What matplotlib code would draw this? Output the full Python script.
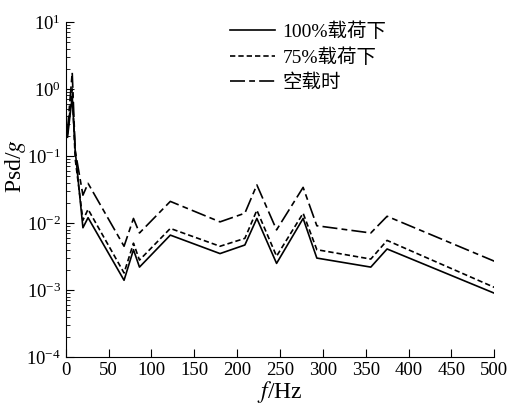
import numpy as np
import matplotlib
matplotlib.use("Agg")
import matplotlib.pyplot as plt

plt.rcParams['font.family'] = ['Liberation Serif', 'Noto Sans CJK SC', 'DejaVu Sans']
plt.rcParams['mathtext.fontset'] = 'stix'

# 频率点 (Hz)
freq = [2, 7.5, 11, 20, 26, 68, 79, 86, 122, 180, 209, 223, 246, 277, 293, 356, 375, 500]
# 100%载荷下
psd_full = [0.19, 0.77, 0.12, 0.0085, 0.012, 0.0014, 0.004, 0.0022, 0.0066, 0.0035, 0.0047,
            0.0117, 0.0025, 0.0117, 0.0030, 0.0022, 0.0041, 0.0009]
# 75%载荷下
psd_75 = [0.21, 1.0, 0.09, 0.011, 0.016, 0.0018, 0.005, 0.0028, 0.0083, 0.0045, 0.0059,
          0.0155, 0.0032, 0.014, 0.0040, 0.0029, 0.0055, 0.0011]
# 空载时
psd_empty = [0.24, 1.75, 0.12, 0.026, 0.039, 0.0045, 0.0117, 0.0071, 0.021, 0.0104, 0.014,
             0.037, 0.0079, 0.034, 0.0091, 0.0071, 0.0126, 0.0027]

labels = ['100%载荷下', '75%载荷下', '空载时']

fig = plt.figure(figsize=(5.1, 4.04), dpi=100)
ax = fig.add_axes([0.129, 0.116, 0.84, 0.83])

ax.semilogy(freq, psd_full, color='black', lw=1.2, label=labels[0])
ax.semilogy(freq, psd_75, color='black', lw=1.2, dashes=(3.2, 1.8), label=labels[1])
ax.semilogy(freq, psd_empty, color='black', lw=1.2, dashes=(9, 2.5, 3.5, 2.5), label=labels[2])

ax.set_xlim(0, 500)
ax.set_ylim(1e-4, 10)
ax.set_xticks(np.arange(0, 501, 50))
ax.spines['top'].set_visible(False)
ax.spines['right'].set_visible(False)
ax.tick_params(axis='both', which='both', direction='in', labelsize=13.5)
ax.tick_params(axis='both', which='major', length=6)
ax.tick_params(axis='y', which='minor', length=3)

ax.set_xlabel(r'$\it{f}$/Hz', fontsize=17, labelpad=0)
ax.set_ylabel(r'Psd/$\it{g}$', fontsize=17)
ax.yaxis.set_label_coords(-0.088, 0.57)

ax.legend(loc='upper left', bbox_to_anchor=(230 / 510, 1 - 22 / 404),
          bbox_transform=fig.transFigure, frameon=False, fontsize=14,
          handlelength=2.3, handletextpad=0.4, labelspacing=0.38,
          borderpad=0, borderaxespad=0)

fig.savefig('out.png', dpi=100)
